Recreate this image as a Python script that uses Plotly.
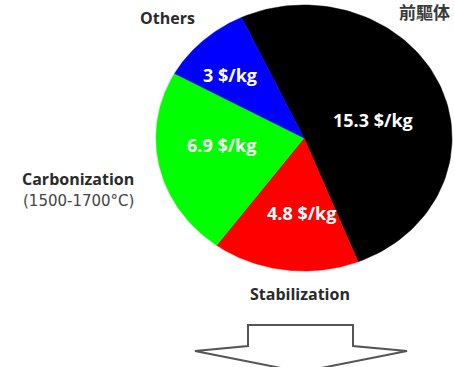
import numpy as np
import plotly.graph_objects as go

# Cost breakdown of carbon fibre production ($/kg)
stages = ["前驅体", "Stabilization", "Carbonization", "Others"]
costs = [15.3, 4.8, 6.9, 3.0]
colors = ["#000000", "#ff0000", "#00ff00", "#0000ff"]
value_labels = ["15.3 $/kg", "4.8 $/kg", "6.9 $/kg", "3 $/kg"]

W, H = 454, 367
CX, CY = 304, 138          # pie centre (pixel coords)
RX, RY = 148, 133          # elliptical radii
START = -25.0              # first slice starts 25 deg left of 12 o'clock, clockwise


def ell(phi_deg, scale=1.0):
    p = np.radians(phi_deg)
    return CX + scale * RX * np.sin(p), CY - scale * RY * np.cos(p)


fig = go.Figure()
total = sum(costs)
a0 = START
for name, v, c in zip(stages, costs, colors):
    span = 360.0 * v / total
    phis = np.linspace(a0, a0 + span, 90)
    xs, ys = ell(phis)
    xs = np.concatenate([[CX], xs, [CX]])
    ys = np.concatenate([[CY], ys, [CY]])
    fig.add_trace(go.Scatter(x=xs, y=ys, fill="toself", fillcolor=c, mode="lines",
                             line=dict(color=c, width=0.5), hoverinfo="skip",
                             showlegend=False, name=name))
    a0 += span

# value labels inside slices
label_pos = [(373, 120), (301, 213), (221, 145), (230, 75)]
for txt, (x, y) in zip(value_labels, label_pos):
    fig.add_annotation(x=x, y=y, text=f"<b>{txt}</b>", showarrow=False,
                       font=dict(family="Open Sans", size=18, color="white"))

# stage names around the pie
dark = "#2a2a2a"
fig.add_annotation(x=167, y=18, text="<b>Others</b>", showarrow=False,
                   font=dict(family="Open Sans", size=16, color=dark))
fig.add_annotation(x=452, y=11, text="<b>前驅体</b>", showarrow=False, xanchor="right",
                   font=dict(family="Noto Sans CJK TC", size=17, color="#3a3a3a"))
fig.add_annotation(x=78, y=179, text="<b>Carbonization</b>", showarrow=False,
                   font=dict(family="Open Sans", size=16, color=dark))
fig.add_annotation(x=78, y=201, text="(1500-1700°C)", showarrow=False,
                   font=dict(family="DejaVu Sans", size=15, color="#444444"))
fig.add_annotation(x=300, y=294, text="<b>Stabilization</b>", showarrow=False,
                   font=dict(family="Open Sans", size=16, color=dark))

# outline arrow pointing down
fig.add_shape(type="path",
              path="M 248 325 L 353 325 L 353 346 L 407 351 L 301 372 L 195 351 L 248 346 Z",
              xref="x", yref="y", line=dict(color="#555555", width=2), fillcolor="white")

fig.update_layout(
    width=W, height=H, margin=dict(l=0, r=0, t=0, b=0),
    paper_bgcolor="white", plot_bgcolor="white",
    xaxis=dict(range=[0, W], visible=False, fixedrange=True),
    yaxis=dict(range=[H, 0], visible=False, fixedrange=True),
)

fig.write_html("out.html")
